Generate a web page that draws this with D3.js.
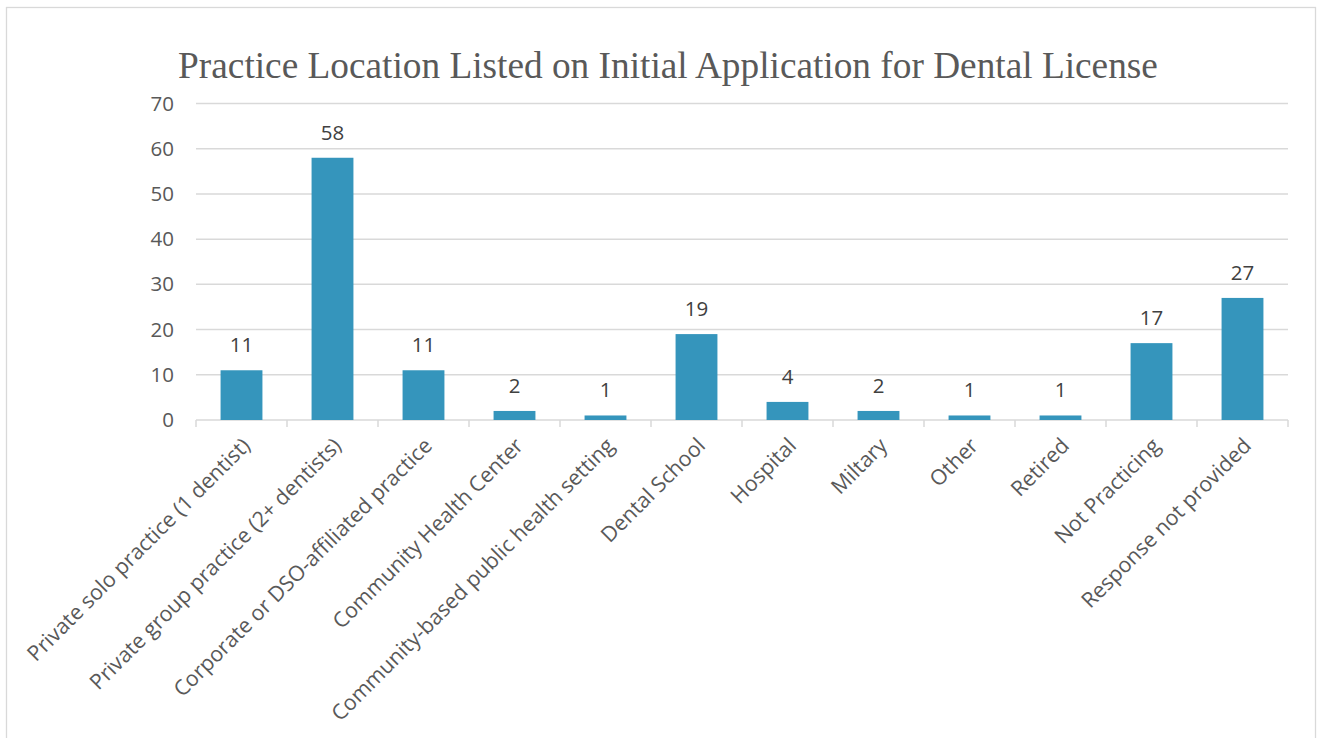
<!DOCTYPE html>
<html>
<head>
<meta charset="utf-8">
<script src="https://cdn.jsdelivr.net/npm/d3@7"></script>
<style>
  html, body { margin: 0; padding: 0; background: #fff; }
  svg { display: block; }
</style>
</head>
<body>
<svg id="here"></svg>
<script>
// chart data
const categories = [
  "Private solo practice (1 dentist)",
  "Private group practice (2+ dentists)",
  "Corporate or DSO-affiliated practice",
  "Community Health Center",
  "Community-based public health setting",
  "Dental School",
  "Hospital",
  "Miltary",
  "Other",
  "Retired",
  "Not Practicing",
  "Response not provided"
];
const counts = [11, 58, 11, 2, 1, 19, 4, 2, 1, 1, 17, 27];
const yTicks = [0, 10, 20, 30, 40, 50, 60, 70];
const title = "Practice Location Listed on Initial Application for Dental License";

const width = 1317;
const height = 738;
const margin = {top: 103.5, right: 29, bottom: 318, left: 196};
const labelFont = "'Open Sans', sans-serif";

const svg = d3.select("#here")
  .attr("width", width)
  .attr("height", height);

// chart frame
svg.append("rect")
  .attr("x", 6.5).attr("y", 7.5)
  .attr("width", 1309).attr("height", 740)
  .attr("fill", "#fff")
  .attr("stroke", "#d9d9d9")
  .attr("stroke-width", 1.3);

svg.append("text")
  .attr("x", 668)
  .attr("y", 78)
  .attr("text-anchor", "middle")
  .attr("font-family", "'Liberation Serif', 'Times New Roman', serif")
  .attr("font-size", 37.3)
  .attr("fill", "#595959")
  .text(title);

const x = d3.scaleBand()
  .domain(categories)
  .range([margin.left, width - margin.right])
  .paddingInner(0.54)
  .paddingOuter(0.27);

const y = d3.scaleLinear()
  .domain([0, 70])
  .range([height - margin.bottom, margin.top]);

// gridlines
svg.append("g")
  .selectAll("line")
  .data(yTicks.filter(d => d > 0))
  .enter()
  .append("line")
  .attr("x1", margin.left)
  .attr("x2", width - margin.right)
  .attr("y1", d => y(d))
  .attr("y2", d => y(d))
  .attr("stroke", "#d9d9d9")
  .attr("stroke-width", 1.5);

// y axis labels
const yAxis = g => g
  .attr("transform", `translate(${margin.left},0)`)
  .call(d3.axisLeft(y).tickValues(yTicks).tickSize(0).tickPadding(22))
  .call(g => g.select(".domain").remove())
  .call(g => g.selectAll("text")
    .attr("font-family", labelFont)
    .attr("font-size", 20.5)
    .attr("fill", "#595959"));
svg.append("g").call(yAxis);

// x axis with boundary ticks
const xAxisG = svg.append("g")
  .attr("transform", `translate(0,${y(0)})`);
xAxisG.append("line")
  .attr("x1", margin.left).attr("x2", width - margin.right)
  .attr("stroke", "#d9d9d9").attr("stroke-width", 1.5);
const step = x.step();
xAxisG.selectAll(".tick")
  .data(d3.range(categories.length + 1))
  .enter()
  .append("line")
  .attr("x1", i => margin.left + i * step)
  .attr("x2", i => margin.left + i * step)
  .attr("y1", 0).attr("y2", 7)
  .attr("stroke", "#d9d9d9").attr("stroke-width", 1.5);

xAxisG.selectAll(".lbl")
  .data(categories)
  .enter()
  .append("text")
  .attr("transform", d => `translate(${x(d) + x.bandwidth() / 2 + 10},${27}) rotate(-45)`)
  .attr("text-anchor", "end")
  .attr("font-family", labelFont)
  .attr("font-size", 21.3)
  .attr("fill", "#595959")
  .text(d => d);

// bars
svg.append("g")
  .selectAll("rect")
  .data(counts)
  .enter()
  .append("rect")
  .attr("x", (d, i) => x(categories[i]))
  .attr("y", d => y(d))
  .attr("width", x.bandwidth())
  .attr("height", d => y(0) - y(d))
  .attr("fill", "#3595bc");

// value labels
svg.append("g")
  .selectAll("text")
  .data(counts)
  .enter()
  .append("text")
  .attr("x", (d, i) => x(categories[i]) + x.bandwidth() / 2)
  .attr("y", d => y(d) - 18)
  .attr("text-anchor", "middle")
  .attr("font-family", labelFont)
  .attr("font-size", 20.5)
  .attr("fill", "#404040")
  .text(d => d);
</script>
</body>
</html>
